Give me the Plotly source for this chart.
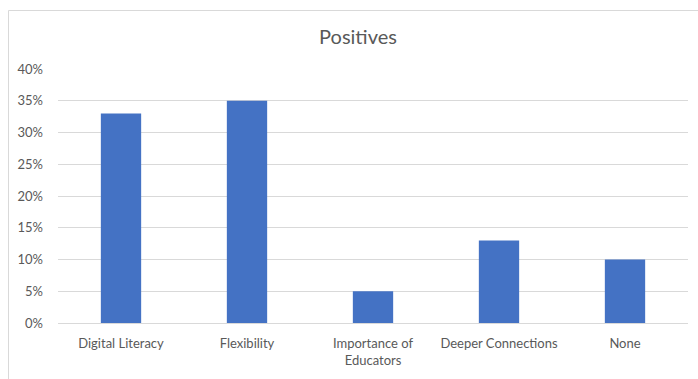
import plotly.graph_objects as go

# Survey results: share of respondents naming each positive
categories = ["Digital Literacy", "Flexibility", "Importance of<br>Educators",
              "Deeper Connections", "None"]
shares = [0.33, 0.35, 0.05, 0.13, 0.10]
tick_values = [0, 0.05, 0.10, 0.15, 0.20, 0.25, 0.30, 0.35, 0.40]
tick_labels = ["0%", "5%", "10%", "15%", "20%", "25%", "30%", "35%", "40%"]

W, H = 698, 379
L, R, T, B = 58, 10, 69, 56
plot_w = W - L - R
plot_h = H - T - B

fig = go.Figure(
    go.Bar(
        x=categories,
        y=shares,
        marker=dict(color="#4472C4", line=dict(width=0)),
        hoverinfo="skip",
    )
)

font_family = "Lato, Calibri, 'Open Sans', sans-serif"

fig.update_layout(
    width=W,
    height=H,
    margin=dict(l=L, r=R, t=T, b=B),
    paper_bgcolor="white",
    plot_bgcolor="white",
    bargap=0.68,
    showlegend=False,
    title=dict(
        text="Positives",
        x=358 / W,
        xanchor="center",
        y=1 - 37 / H,
        yanchor="middle",
        font=dict(family=font_family, size=20, color="#595959"),
    ),
    font=dict(family=font_family, size=13, color="#595959"),
    xaxis=dict(
        showgrid=False,
        showline=True,
        linecolor="#d9d9d9",
        linewidth=1,
        ticks="",
        ticklabelstandoff=8,
        tickfont=dict(size=13, color="#595959"),
        fixedrange=True,
    ),
    yaxis=dict(
        range=[0, 0.4],
        tickvals=tick_values,
        ticktext=tick_labels,
        showgrid=True,
        gridcolor="#d9d9d9",
        gridwidth=1,
        zeroline=False,
        showline=False,
        ticks="",
        ticklabelstandoff=14,
        tickfont=dict(size=13, color="#595959"),
        fixedrange=True,
    ),
    shapes=[
        # chart-area border
        dict(
            type="rect",
            xref="paper",
            yref="paper",
            x0=(8.5 - L) / plot_w,
            x1=(W + 5 - L) / plot_w,
            y0=-(B + 5) / plot_h,
            y1=(H - 10.5 - B) / plot_h,
            line=dict(color="#d9d9d9", width=1),
            fillcolor="rgba(0,0,0,0)",
            layer="below",
        )
    ],
)

fig.write_html("out.html")
